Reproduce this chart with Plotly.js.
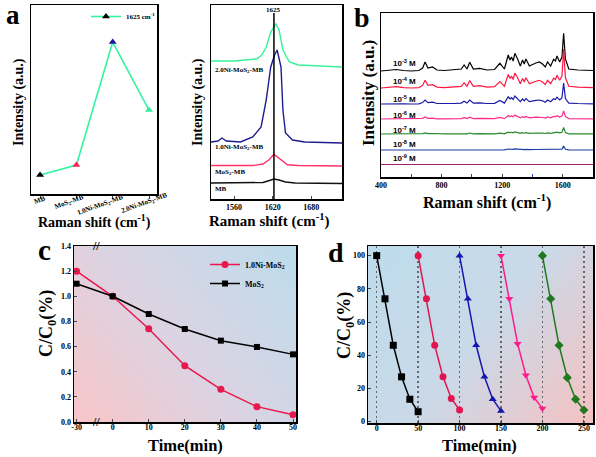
<!DOCTYPE html>
<html><head><meta charset="utf-8">
<script src="https://cdn.plot.ly/plotly-3.0.1.min.js"></script>
<style>html,body{margin:0;padding:0;background:#fff;}#chart{width:596px;height:457px;}</style>
</head><body><div id="chart"></div>
<script>
// ---------- Panel a (left): 1625 cm-1 intensity per sample ----------
const samplesA = ['MB','MoS<sub>2</sub>-MB','1.0Ni-MoS<sub>2</sub>-MB','2.0Ni-MoS<sub>2</sub>-MB'];
const peak1625 = [1.0, 1.53, 8.04, 4.44];
const markerColorsA = ['#000000','#ff2255','#1a1aa0','#33ee99'];

// ---------- Panel a (right): Raman spectra near 1625 ----------
const mbX  = [1524,1590,1605,1615,1622,1630,1640,1655,1728];
const mbY  = [16,16,16.5,18.5,20,19,17,16,15.5];
const moX  = [1524,1590,1605,1614,1622,1633,1643,1660,1728];
const moY  = [33.5,33.5,35,39,44.7,39,34.3,33.5,33];
const niX  = [1524,1535,1541,1548,1570,1589,1602,1610,1617,1623,1627,1633,1636,1640,1651,1670,1728];
const niY  = [57,58,61,58,57,62,72,99,132,144,149,132,89,66,59,57,56];
const grX  = [1524,1560,1595,1603,1610,1617,1625,1630,1636,1646,1660,1690,1728];
const grY  = [138,138,140,144,152,167,175,169,149,137,134,133,132];
const specLabelsA = ['2.0Ni-MoS<sub>2</sub>-MB','1.0Ni-MoS<sub>2</sub>-MB','MoS<sub>2</sub>-MB','MB'];

// ---------- Panel b: concentration-dependent spectra ----------
const shiftB = [400,450,500,550,600,650,675,691,710,740,770,820,880,930,949,968,986,1010,1052,1100,1150,1185,1215,1240,1252,1262,1273,1284,1302,1320,1335,1346,1357,1380,1423,1445,1467,1485,1500,1520,1540,1552,1562,1580,1595,1606,1618,1640,1700,1760,1800];
const s3 = [99,99.5,100.5,99.5,99,99.5,102,108,102,103,100,99.5,100,101,105,101,107.7,101,101.7,100,100.5,106.7,101,115,110,113,109,116.7,111,104,110,106,111,104,107,108,106,103,108,104,110.7,109,114,108,113,136.7,111,101,100,99.5,99.5];
const s4 = [82,82.4,83.3,82.4,82,82.4,84.6,89.7,84.6,85.4,82.9,82.4,82.9,83.7,87.1,83.7,89.4,83.7,84.3,82.9,83.3,88.5,83.7,95.6,91.4,93.9,90.5,97,92.2,86.3,91.4,88,92.2,86.3,88.8,89.7,88,85.4,89.7,86.3,91.9,90.5,94.8,89.7,93.9,121,92.2,83.7,82.9,82.4,82.4];
const s5 = [66,66.2,66.7,66.2,66,66.2,67.4,70,67.4,67.8,66.5,66.2,66.5,66.9,68.7,66.9,69.9,66.9,67.2,66.5,66.7,69.5,66.9,73.2,71,72.3,70.5,74,71.4,68.3,71,69.2,71.4,68.3,69.6,70,69.2,67.8,70,68.3,71.3,70.5,72.8,70,72.3,87,71.4,66.9,66.5,66.2,66.2];
const s6 = [51,51.1,51.3,51.1,51,51.1,51.7,53,51.7,51.9,51.2,51.1,51.2,51.4,52.3,51.4,52.9,51.4,51.6,51.2,51.3,52.7,51.4,54.5,53.4,54.1,53.2,54.9,53.6,52.1,53.4,52.5,53.6,52.1,52.8,53,52.5,51.9,53,52.1,53.6,53.2,54.3,53,54.1,59,53.6,51.4,51.2,51.1,51.1];
const s7 = [36,36.1,36.2,36.1,36,36.1,36.4,37.1,36.4,36.5,36.1,36.1,36.1,36.2,36.7,36.2,37,36.2,36.3,36.1,36.2,36.9,36.2,37.9,37.3,37.7,37.2,38.1,37.4,36.6,37.3,36.8,37.4,36.6,37,37.1,36.8,36.5,37.1,36.6,37.4,37.2,37.8,37.1,37.7,42.5,37.4,36.2,36.1,36.1,36.1];
const s8 = [20,20,20.1,20,20,20,20.2,20.5,20.2,20.2,20.1,20,20.1,20.1,20.4,20.1,20.5,20.1,20.2,20.1,20.1,20.5,20.1,21,20.7,20.8,20.6,21.1,20.7,20.3,20.7,20.4,20.7,20.3,20.5,20.5,20.4,20.2,20.5,20.3,20.7,20.6,20.9,20.5,20.8,24,20.7,20.1,20.1,20,20];
const s9X = [400,1800];
const s9 = [5.5,5.5];
const concLabels = ['10<sup>-3</sup> M','10<sup>-4</sup> M','10<sup>-5</sup> M','10<sup>-6</sup> M','10<sup>-7</sup> M','10<sup>-8</sup> M','10<sup>-9</sup> M'];

// ---------- Panel c: degradation vs time ----------
const timeC = ['-30','0','10','20','30','40','50'];
const niMoS2C = [1.20,1.00,0.742,0.448,0.26,0.122,0.058];
const mos2C   = [1.10,1.00,0.859,0.74,0.647,0.597,0.538];

// ---------- Panel d: cycling ----------
const timeD1 = [0,10,20,30,40,50];
const cyc1 = [100,74,46,27,13.5,6];
const timeD2 = [50,60,70,80,90,100];
const cyc2 = [100,74,46,27,14,7];
const timeD3 = [100,110,120,130,140,150];
const cyc3 = [100,74,46,27,13.5,6.5];
const timeD4 = [150,160,170,180,190,200];
const cyc4 = [100,74,47,28,14.5,8];
const timeD5 = [200,210,220,230,240,250];
const cyc5 = [100,74,46,26.5,13.5,7];

// ---------- styling ----------
const SERIF = '"Liberation Serif","Times New Roman",serif';
const SANS = '"Liberation Sans",Arial,sans-serif';
const W = 596, H = 457;
const px = v => v / W;
const py = v => 1 - v / H;

function gradient(w, h, x0, y0, x1, y1, stops) {
  const c = document.createElement('canvas');
  c.width = w; c.height = h;
  const g = c.getContext('2d');
  const lg = g.createLinearGradient(x0, y0, x1, y1);
  stops.forEach(s => lg.addColorStop(s[0], s[1]));
  g.fillStyle = lg; g.fillRect(0, 0, w, h);
  return c.toDataURL('image/png');
}
const gradC = gradient(222, 176, 0, 176, 222, 0, [[0,'#f8c5c8'],[0.45,'#dcd3e2'],[1,'#bcdcec']]);
const gradD = gradient(225, 177, 0, 0, 225, 177, [[0,'#bddcec'],[0.5,'#cad9e8'],[1,'#f5c2c2']]);

const traces = [];
// a-left
traces.push({x: samplesA, y: peak1625, xaxis:'x', yaxis:'y', mode:'lines+markers',
  name:'1625 cm<sup>-1</sup>', legend:'legend2', showlegend:true,
  line:{color:'#33f5a0', width:1.6},
  marker:{symbol:'triangle-up', size:7, color:markerColorsA}});
// a-right
[[mbX,mbY,'#111111'],[moX,moY,'#ff3366'],[niX,niY,'#1c1c8e'],[grX,grY,'#33f59a']].forEach(s => {
  traces.push({x:s[0], y:s[1], xaxis:'x2', yaxis:'y2', mode:'lines', showlegend:false,
    line:{color:s[2], width:1.4}});
});
// b
const bSeries = [[shiftB,s3,'#000000'],[shiftB,s4,'#ff1744'],[shiftB,s5,'#1a1aa8'],[shiftB,s6,'#ff2a8a'],[shiftB,s7,'#2a8a2a'],[shiftB,s8,'#1f3fa8'],[s9X,s9,'#9a1f6e']];
bSeries.forEach(s => {
  traces.push({x:s[0], y:s[1], xaxis:'x3', yaxis:'y3', mode:'lines', showlegend:false,
    line:{color:s[2], width:1.2}});
});
// c
traces.push({x:timeC, y:niMoS2C, xaxis:'x4', yaxis:'y4', mode:'lines+markers', name:'1.0Ni-MoS<sub>2</sub>',
  line:{color:'#e8174c', width:1.5}, marker:{symbol:'circle', size:7, color:'#e8174c'}});
traces.push({x:timeC, y:mos2C, xaxis:'x4', yaxis:'y4', mode:'lines+markers', name:'MoS<sub>2</sub>',
  line:{color:'#000000', width:1.5}, marker:{symbol:'square', size:6, color:'#000000'}});
// d
[[timeD1,cyc1,'#000000','square'],[timeD2,cyc2,'#e2154e','circle'],[timeD3,cyc3,'#1515b0','triangle-up'],
 [timeD4,cyc4,'#ff1a8c','triangle-down'],[timeD5,cyc5,'#1f7a1f','diamond']].forEach(s => {
  traces.push({x:s[0], y:s[1], xaxis:'x5', yaxis:'y5', mode:'lines+markers', showlegend:false,
    line:{color:s[2], width:1.5}, marker:{symbol:s[3], size:7, color:s[2]}});
});

const tf = s => ({family:SERIF, size:s, weight:700, color:'#000'});
function frame(extra) {
  return Object.assign({showline:true, mirror:true, linecolor:'#000', linewidth:1.5, showgrid:false,
    zeroline:false, ticks:'', fixedrange:true, tickfont:tf(8)}, extra);
}

const annotations = [];
function ann(text, x, y, size, opts) {
  annotations.push(Object.assign({text:text, xref:'paper', yref:'paper', x:px(x), y:py(y),
    showarrow:false, xanchor:'center', yanchor:'middle', font:{family:SERIF, size:size, color:'#000'}}, opts||{}));
}
// panel letters
ann('<b>a</b>', 12.5, 15, 27);
ann('<b>b</b>', 362, 18, 28);
ann('<b>c</b>', 44, 250, 29);
ann('<b>d</b>', 336, 252, 28);
// a-left category labels (rotated)
[[40,200],[69,202],[100,205],[144,203]].forEach((p,i) =>
  ann('<b>'+samplesA[i]+'</b>', p[0], p[1], 7, {textangle:-20}));
// axis titles
ann('<b>Raman shift (cm<sup>-1</sup>)</b>', 94, 221, 14);
ann('<b>Intensity (a.u.)</b>', 19, 102, 14, {textangle:-90});
ann('<b>Raman shift (cm<sup>-1</sup>)</b>', 269, 220, 15);
ann('<b>Intensity (a.u.)</b>', 198, 102, 14, {textangle:-90});
ann('<b>Raman shift (cm<sup>-1</sup>)</b>', 487, 201, 16);
ann('<b>Intensity (a.u.)</b>', 368, 93, 17, {textangle:-90});
ann('<b>Time(min)</b>', 185, 445, 16.5);
ann('<b>C/C<sub>0</sub>(%)</b>', 47, 324, 18, {textangle:-90});
ann('<b>Time(min)</b>', 480, 445, 16.5);
ann('<b>C/C<sub>0</sub>(%)</b>', 345, 326, 18, {textangle:-90});
// a-right spectrum labels
[70,147,172,189].forEach((yy,i) => ann('<b>'+specLabelsA[i]+'</b>', 213, yy, 7, {xanchor:'left'}));
ann('<b>1625</b>', 273, 10, 7);
// b concentration labels
[63,81,99,115,130,144,158].forEach((yy,i) => annotations.push({text:'<b>'+concLabels[i]+'</b>',
  xref:'paper', yref:'paper', x:px(391), y:py(yy), xanchor:'left', yanchor:'middle', showarrow:false,
  font:{family:SANS, size:8, color:'#000'}}));
// axis break marks in c
ann('<b>//</b>', 95.5, 246, 12);
ann('<b>//</b>', 95.5, 422, 12);

const layout = {
  width:W, height:H, margin:{l:0,r:0,t:0,b:0}, autosize:false,
  paper_bgcolor:'#ffffff', plot_bgcolor:'rgba(0,0,0,0)',
  font:{family:SERIF, color:'#000'},
  xaxis: frame({domain:[px(31),px(157)], anchor:'y', type:'category', range:[-0.25,3.22],
    ticks:'outside', ticklen:3, showticklabels:false}),
  yaxis: frame({domain:[py(194),py(5)], anchor:'x', range:[0,10], showticklabels:false}),
  xaxis2: frame({domain:[px(211),px(342)], anchor:'y2', range:[1524,1728], tickvals:[1560,1620,1680],
    ticks:'inside', ticklen:3, tickfont:tf(8)}),
  yaxis2: frame({domain:[py(199),py(5)], anchor:'x2', range:[0,194], showticklabels:false}),
  xaxis3: frame({domain:[px(381),px(593)], anchor:'y3', range:[400,1800], tickvals:[400,800,1200,1600],
    ticks:'inside', ticklen:3, tickfont:tf(8),
    minor:{tickmode:'array', tickvals:[600,1000,1400], ticks:'inside', ticklen:3, tickcolor:'#1f3fbf'}}),
  yaxis3: frame({domain:[py(177),py(13)], anchor:'x3', range:[-7,157], showticklabels:false}),
  xaxis4: frame({domain:[px(74),px(296)], anchor:'y4', type:'category', range:[-0.072,6.083],
    ticks:'inside', ticklen:3, tickfont:tf(8), ticklabelstandoff:-3}),
  yaxis4: frame({domain:[py(422),py(246)], anchor:'x4', range:[0,1.4], dtick:0.2, tick0:0, tickformat:'.1f',
    ticks:'inside', ticklen:3, tickfont:tf(8)}),
  xaxis5: frame({domain:[px(368),px(593)], anchor:'y5', range:[-10.5,261], tickvals:[0,50,100,150,200,250],
    showgrid:true, gridcolor:'#666', griddash:'1.5px,3.5px', gridwidth:1.5, ticks:'inside', ticklen:3,
    tickfont:tf(8), ticklabelstandoff:-3}),
  yaxis5: frame({domain:[py(423),py(246)], anchor:'x5', range:[-0.8,105.8], tickvals:[0,20,40,60,80,100],
    ticks:'inside', ticklen:3, tickfont:tf(8)}),
  legend: {x:px(205), y:py(250), xanchor:'left', yanchor:'top', bgcolor:'rgba(0,0,0,0)',
    font:{family:SERIF, size:8, weight:700, color:'#000'}, tracegroupgap:0, itemwidth:30},
  legend2: {x:px(86), y:py(2), xanchor:'left', yanchor:'top', bgcolor:'rgba(0,0,0,0)',
    font:{family:SERIF, size:7, weight:700, color:'#000'}, itemwidth:30},
  shapes: [
    {type:'line', xref:'x2', yref:'y2', x0:1622, x1:1622, y0:0, y1:186, line:{color:'#000', width:1.5}}
  ],
  images: [
    {source:gradC, xref:'x4 domain', yref:'y4 domain', x:0, y:1, sizex:1, sizey:1, xanchor:'left', yanchor:'top', sizing:'stretch', layer:'below'},
    {source:gradD, xref:'x5 domain', yref:'y5 domain', x:0, y:1, sizex:1, sizey:1, xanchor:'left', yanchor:'top', sizing:'stretch', layer:'below'}
  ],
  annotations: annotations
};

Plotly.newPlot('chart', traces, layout, {displayModeBar:false, staticPlot:true});
</script>
</body></html>
